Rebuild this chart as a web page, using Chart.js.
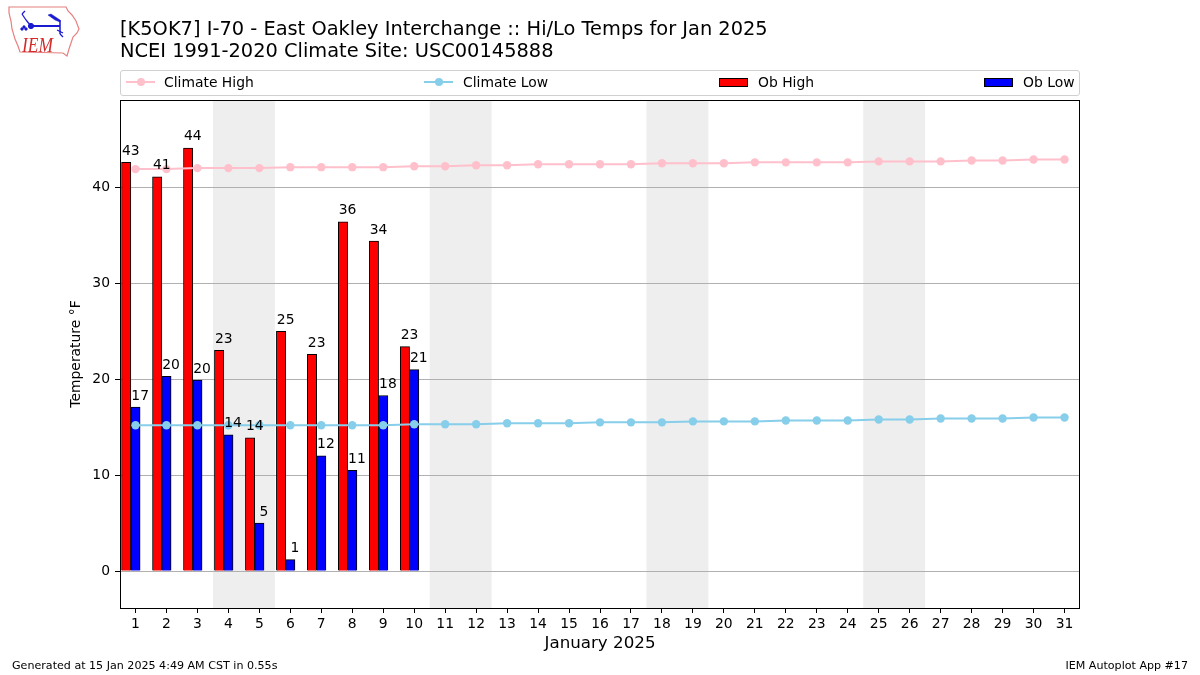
<!DOCTYPE html>
<html>
<head>
<meta charset="utf-8">
<script src="https://cdn.jsdelivr.net/npm/chart.js@4.4.1/dist/chart.umd.min.js"></script>
<style>
  html, body { margin: 0; padding: 0; background: #fff; }
  #wrap { position: relative; width: 1200px; height: 675px; overflow: hidden; font-family: "DejaVu Sans", sans-serif; color: #000; }
  #c { position: absolute; left: 0; top: 0; }
  .abs { position: absolute; white-space: nowrap; }
  .title { left: 120px; font-size: 19.4px; line-height: 22px; }
  #legend { position: absolute; left: 120px; top: 70px; width: 958px; height: 24px; border: 1px solid #d0d0d0; border-radius: 3px; background: rgba(255,255,255,0.8); }
  .lgtext { position: absolute; top: 3px; font-size: 13.9px; line-height: 16px; }
  .lgline { position: absolute; top: 10px; width: 29px; height: 2px; }
  .lgdot { position: absolute; top: 7px; width: 8px; height: 8px; border-radius: 50%; }
  .lgbox { position: absolute; top: 7px; width: 27px; height: 7px; border: 1px solid #000; }
  .foot { font-size: 11.1px; line-height: 13px; top: 659px; }
</style>
</head>
<body>
<div id="wrap">
  <canvas id="c" width="1200" height="675"></canvas>
  <svg class="abs" style="left:0;top:0" width="90" height="65" viewBox="0 0 90 65">
    <polygon points="9,7 66,7 68,11 72,15 76,21 79,29 77,33 73,37 71,43 69,49 67,56 63,53 20,52 18,46 15,39 12,29 11,21 9,13" fill="#fff" stroke="#e58080" stroke-width="1.2"/>
    <g stroke="#1a1ad0" fill="#1a1ad0">
      <line x1="31" y1="26" x2="60" y2="26" stroke-width="2"/>
      <circle cx="31" cy="26" r="2.6"/>
      <polygon points="48,15 51,14 60,20 60,22 55,20" stroke-width="0.5"/>
      <line x1="60" y1="20" x2="60" y2="34" stroke-width="1.5"/>
      <line x1="57" y1="30" x2="63" y2="33" stroke-width="1.2"/>
      <line x1="60" y1="34" x2="63" y2="37" stroke-width="1.2"/>
      <line x1="26" y1="20" x2="31" y2="26" stroke-width="1.3"/>
      <line x1="26" y1="20" x2="22" y2="14" stroke-width="1.3"/>
      <line x1="22" y1="14" x2="25" y2="11" stroke-width="1.3"/>
      <circle cx="24" cy="27" r="1.2"/>
      <circle cx="22" cy="29" r="1.2"/>
      <circle cx="26" cy="29" r="1.2"/>
    </g>
    <text x="22" y="52" font-family="Liberation Serif, serif" font-style="italic" font-size="21" fill="#d42a2a" textLength="31" lengthAdjust="spacingAndGlyphs">IEM</text>
  </svg>
  <div class="abs title" style="top:17.6px">[K5OK7] I-70 - East Oakley Interchange :: Hi/Lo Temps for Jan 2025</div>
  <div class="abs title" style="top:39.6px">NCEI 1991-2020 Climate Site: USC00145888</div>
  <div id="legend"></div>
  <div class="abs foot" style="left:12px">Generated at 15 Jan 2025 4:49 AM CST in 0.55s</div>
  <div class="abs foot" style="right:12px">IEM Autoplot App #17</div>
</div>
<script>
// ---- data ----
const days = [1,2,3,4,5,6,7,8,9,10,11,12,13,14,15,16,17,18,19,20,21,22,23,24,25,26,27,28,29,30,31];
const obDays = [1,2,3,4,5,6,7,8,9,10];
const obHigh = [42.6, 41.1, 44.1, 23.0, 13.9, 25.0, 22.6, 36.4, 34.4, 23.4];
const obLow  = [17.1, 20.3, 19.9, 14.2, 5.0, 1.2, 12.0, 10.5, 18.3, 21.0];
const climHigh = [41.9,41.9,42.0,42.0,42.0,42.1,42.1,42.1,42.1,42.2,42.2,42.3,42.3,42.4,42.4,42.4,42.4,42.5,42.5,42.5,42.6,42.6,42.6,42.6,42.7,42.7,42.7,42.8,42.8,42.9,42.9];
const climLow  = [15.2,15.2,15.2,15.2,15.2,15.2,15.2,15.2,15.2,15.3,15.3,15.3,15.4,15.4,15.4,15.5,15.5,15.5,15.6,15.6,15.6,15.7,15.7,15.7,15.8,15.8,15.9,15.9,15.9,16.0,16.0];
const weekendStarts = [4, 11, 18, 25];
const yTicks = [0, 10, 20, 30, 40];
const seriesNames = ["Climate High", "Climate Low", "Ob High", "Ob Low"];
const seriesColors = ["#ffc0cb", "#87ceeb", "#ff0000", "#0000ff"];

// ---- legend (HTML) ----
(function(){
  const lg = document.getElementById('legend');
  const handleX = [5, 303, 598, 863];
  const textX = [43, 342, 637, 902];
  seriesNames.forEach((n, i) => {
    if (i < 2) {
      const l = document.createElement('div'); l.className = 'lgline'; l.style.left = handleX[i] + 'px'; l.style.background = seriesColors[i]; lg.appendChild(l);
      const d = document.createElement('div'); d.className = 'lgdot'; d.style.left = (handleX[i] + 10.5) + 'px'; d.style.background = seriesColors[i]; lg.appendChild(d);
    } else {
      const b = document.createElement('div'); b.className = 'lgbox'; b.style.left = handleX[i] + 'px'; b.style.background = seriesColors[i]; lg.appendChild(b);
    }
    const t = document.createElement('div'); t.className = 'lgtext'; t.style.left = textX[i] + 'px'; t.textContent = n; lg.appendChild(t);
  });
})();

const FONT = "DejaVu Sans";

const shadePlugin = {
  id: 'shade',
  beforeDraw(chart) {
    const {ctx, chartArea, scales: {x}} = chart;
    ctx.save();
    ctx.fillStyle = '#eeeeee';
    weekendStarts.forEach(d => {
      const x0 = x.getPixelForValue(d - 0.5), x1 = x.getPixelForValue(d + 1.5);
      ctx.fillRect(x0, chartArea.top, x1 - x0, chartArea.bottom - chartArea.top);
    });
    ctx.restore();
  }
};

const framePlugin = {
  id: 'frame',
  afterDatasetsDraw(chart) {
    const {ctx, chartArea} = chart;
    // bar value labels
    ctx.save();
    ctx.font = "13.9px '" + FONT + "'";
    ctx.fillStyle = '#000';
    ctx.textAlign = 'center';
    ctx.textBaseline = 'alphabetic';
    [2, 3].forEach(di => {
      const meta = chart.getDatasetMeta(di);
      const vals = di === 2 ? obHigh : obLow;
      meta.data.forEach((el, i) => {
        ctx.fillText(String(Math.round(vals[i])), el.x + el.width / 2, el.y - 7.5);
      });
    });
    ctx.strokeStyle = '#000';
    ctx.lineWidth = 1;
    ctx.strokeRect(Math.round(chartArea.left) + 0.5, Math.round(chartArea.top) + 0.5,
      Math.round(chartArea.right - chartArea.left) - 1, Math.round(chartArea.bottom - chartArea.top));
    ctx.restore();
  }
};

new Chart(document.getElementById('c'), {
  type: 'bar',
  data: {
    datasets: [
      { type: 'line', label: seriesNames[0], data: days.map((d, i) => ({x: d, y: climHigh[i]})),
        borderColor: seriesColors[0], backgroundColor: seriesColors[0], borderWidth: 2,
        pointRadius: 4.2, pointBorderWidth: 0, pointBackgroundColor: seriesColors[0], order: 0 },
      { type: 'line', label: seriesNames[1], data: days.map((d, i) => ({x: d, y: climLow[i]})),
        borderColor: seriesColors[1], backgroundColor: seriesColors[1], borderWidth: 2,
        pointRadius: 4.2, pointBorderWidth: 0, pointBackgroundColor: seriesColors[1], order: 0 },
      { label: seriesNames[2], data: obDays.map((d, i) => ({x: d - 0.3, y: obHigh[i]})),
        backgroundColor: seriesColors[2], borderColor: '#000', borderWidth: 1, borderSkipped: 'start',
        barThickness: 9.3, grouped: false, order: 1 },
      { label: seriesNames[3], data: obDays.map((d, i) => ({x: d, y: obLow[i]})),
        backgroundColor: seriesColors[3], borderColor: '#000', borderWidth: 1, borderSkipped: 'start',
        barThickness: 9.3, grouped: false, order: 1 }
    ]
  },
  options: {
    responsive: false,
    animation: false,
    devicePixelRatio: 1,
    layout: { padding: { left: 60, right: 120, top: 100, bottom: 0 } },
    plugins: { legend: { display: false }, tooltip: { enabled: false }, title: { display: false } },
    scales: {
      x: {
        type: 'linear', min: 0.5, max: 31.5, offset: false,
        grid: { display: true, offset: false, drawOnChartArea: false, drawTicks: true, tickLength: 5, tickColor: '#000' },
        border: { display: false },
        afterBuildTicks: (s) => { s.ticks = days.map(v => ({value: v})); },
        afterFit: (s) => { s.height = 67; },
        ticks: { autoSkip: false, maxRotation: 0, padding: 3, color: '#000', font: { family: FONT, size: 13.9 },
                 callback: (v) => String(v) },
        title: { display: true, text: 'January 2025', color: '#000', font: { family: FONT, size: 16.7 }, padding: { top: 0, bottom: 21 } }
      },
      y: {
        type: 'linear', min: -3.85, max: 49.1,
        grid: { display: true, color: '#b0b0b0', lineWidth: 1, drawTicks: true, tickLength: 5, tickColor: '#000' },
        border: { display: false },
        afterBuildTicks: (s) => { s.ticks = yTicks.map(v => ({value: v})); },
        afterFit: (s) => { s.width = 60; },
        ticks: { padding: 5, color: '#000', font: { family: FONT, size: 13.9 }, callback: (v) => String(v) },
        title: { display: true, text: 'Temperature °F', color: '#000', font: { family: FONT, size: 13.9 }, padding: { top: 8, bottom: 0 } }
      }
    }
  },
  plugins: [shadePlugin, framePlugin]
});
</script>
</body>
</html>
